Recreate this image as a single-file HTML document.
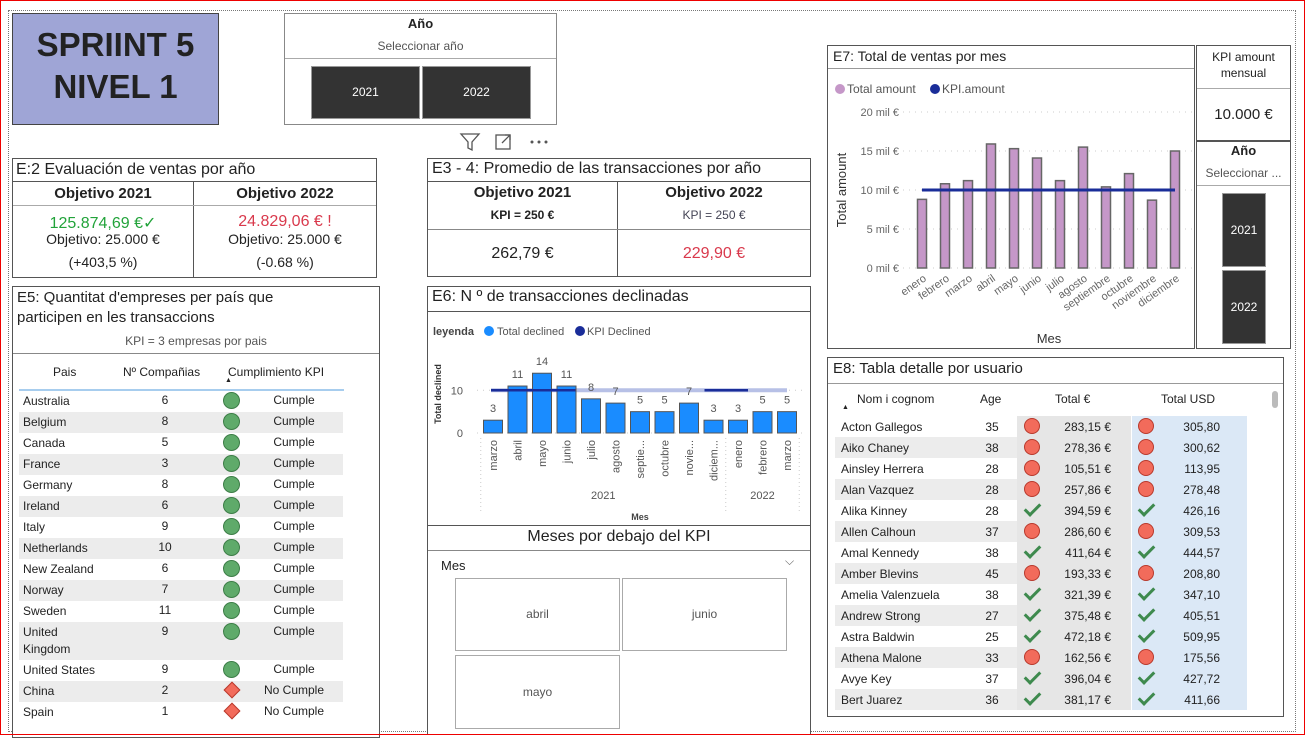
<!DOCTYPE html>
<html><head><meta charset="utf-8">
<style>
*{box-sizing:border-box;margin:0;padding:0}
body{width:1305px;height:735px;overflow:hidden;background:#fff;font-family:"Liberation Sans",sans-serif;color:#222;position:relative}
.a{position:absolute}
.box{position:absolute;border:1px solid #555;background:#fff}
.t{position:absolute;white-space:nowrap}
.c{text-align:center}
.dot{position:absolute;width:16px;height:16px;border-radius:50%;background:#f26b5b;border:1px solid #b8392c}
.gdot{position:absolute;width:17px;height:17px;border-radius:50%;background:#5faa6a;border:1px solid #3d7d47}
.dia{position:absolute;width:12px;height:12px;background:#f26b5b;border:1px solid #b8392c;transform:rotate(45deg)}
.chk{position:absolute;width:9px;height:16px;border-right:3px solid #3e8a4e;border-bottom:3px solid #3e8a4e;transform:rotate(45deg)}
.btn{position:absolute;background:#333;color:#fff;font-size:12px;text-align:center;border:1px solid #999}
</style></head>
<body>
<div class="a" style="left:0;top:0;width:1305px;height:735px;border:1px solid #e00;z-index:5;pointer-events:none"></div>
<div class="a" style="left:8px;top:10px;width:1288px;height:722px;border:1px dotted #777"></div>

<!-- Title -->
<div class="box" style="left:12px;top:13px;width:207px;height:112px;background:#9fa5d6;border-color:#444">
<div class="t c" style="left:0;top:10px;width:205px;font-size:33px;font-weight:bold;line-height:42px;color:#222">SPRIINT 5<br>NIVEL 1</div></div>

<!-- Year slicer -->
<div class="box" style="left:284px;top:13px;width:273px;height:112px;border-color:#888">
<div class="t c" style="left:0;top:2px;width:271px;font-size:13px;font-weight:bold">Año</div>
<div class="t c" style="left:0;top:25px;width:271px;font-size:12px;color:#555">Seleccionar año</div>
<div class="a" style="left:0;top:44px;width:271px;border-top:1px solid #aaa"></div>
<div class="btn" style="left:26px;top:52px;width:109px;height:53px;line-height:51px">2021</div>
<div class="btn" style="left:137px;top:52px;width:109px;height:53px;line-height:51px">2022</div>
</div>
<svg class="a" style="left:458px;top:131px" width="95" height="22">
<path d="M3 3h18l-7 8v8l-4-2v-6z" fill="none" stroke="#555" stroke-width="1.3"/>
<rect x="38" y="4" width="14" height="14" fill="none" stroke="#555" stroke-width="1.3"/><path d="M44 12l8-8M47 4h5v5" stroke="#555" fill="none" stroke-width="1.3"/>
<circle cx="74" cy="11" r="1.5" fill="#555"/><circle cx="81" cy="11" r="1.5" fill="#555"/><circle cx="88" cy="11" r="1.5" fill="#555"/>
</svg>

<!-- E2 -->
<div class="box" style="left:12px;top:158px;width:365px;height:120px">
<div class="t" style="left:3px;top:2px;font-size:16px">E:2 Evaluación de ventas por año</div>
<div class="a" style="left:0;top:22px;width:363px;border-top:1px solid #555"></div>
<div class="a" style="left:180px;top:22px;height:96px;border-left:1px solid #555"></div>
<div class="a" style="left:0;top:46px;width:363px;border-top:1px solid #aaa"></div>
<div class="t c" style="left:0;top:26px;width:180px;font-size:15px;font-weight:bold">Objetivo 2021</div>
<div class="t c" style="left:181px;top:26px;width:182px;font-size:15px;font-weight:bold">Objetivo 2022</div>
<div class="t c" style="left:0;top:54px;width:180px;font-size:16px;color:#22a33a">125.874,69 €✓</div>
<div class="t c" style="left:0;top:72px;width:180px;font-size:14px">Objetivo: 25.000 €</div>
<div class="t c" style="left:0;top:95px;width:180px;font-size:14px">(+403,5 %)</div>
<div class="t c" style="left:181px;top:54px;width:182px;font-size:16px;color:#d9394c">24.829,06 € !</div>
<div class="t c" style="left:181px;top:72px;width:182px;font-size:14px">Objetivo: 25.000 €</div>
<div class="t c" style="left:181px;top:95px;width:182px;font-size:14px">(-0.68 %)</div>
</div>

<!-- E3 -->
<div class="box" style="left:427px;top:158px;width:384px;height:119px">
<div class="t" style="left:4px;top:1px;font-size:16px">E3 - 4: Promedio de las transacciones por año</div>
<div class="a" style="left:0;top:22px;width:382px;border-top:1px solid #555"></div>
<div class="a" style="left:189px;top:22px;height:95px;border-left:1px solid #555"></div>
<div class="a" style="left:0;top:70px;width:382px;border-top:1px solid #888"></div>
<div class="t c" style="left:0;top:25px;width:189px;font-size:15px;font-weight:bold">Objetivo 2021</div>
<div class="t c" style="left:0;top:49px;width:189px;font-size:12px;font-weight:bold">KPI = 250 €</div>
<div class="t c" style="left:0;top:86px;width:189px;font-size:16px">262,79 €</div>
<div class="t c" style="left:190px;top:25px;width:192px;font-size:15px;font-weight:bold">Objetivo 2022</div>
<div class="t c" style="left:190px;top:49px;width:192px;font-size:12px;color:#445">KPI = 250 €</div>
<div class="t c" style="left:190px;top:86px;width:192px;font-size:16px;color:#d9394c">229,90 €</div>
</div>

<!-- E5 -->
<div class="box" style="left:12px;top:286px;width:368px;height:452px">
<div class="t" style="left:4px;top:1px;font-size:15px;line-height:20px">E5: Quantitat d'empreses per país que<br>participen en les transaccions</div>
<div class="t c" style="left:0;top:47px;width:366px;font-size:12px;color:#555">KPI = 3 empresas por pais</div>
<div class="a" style="left:0;top:66px;width:366px;border-top:1px solid #888"></div>
<div class="t" style="left:40px;top:78px;font-size:12px">Pais</div>
<div class="t" style="left:110px;top:78px;font-size:12px">Nº Compañias</div>
<div class="t" style="left:215px;top:78px;font-size:12px">Cumplimiento KPI</div>
<div class="t" style="left:212px;top:90px;font-size:7px">▲</div>
<div class="a" style="left:6px;top:102px;width:325px;border-top:2px solid #a7cdee"></div>
<div id="e5rows"></div>
</div>

<!-- E6 -->
<div class="box" style="left:427px;top:286px;width:384px;height:240px">
<div class="t" style="left:4px;top:1px;font-size:16px">E6: N º de transacciones declinadas</div>
<div class="a" style="left:0;top:24px;width:382px;border-top:1px solid #555"></div>
</div>
<svg class="a" id="e6" style="left:427px;top:286px" width="384" height="240"></svg>

<!-- Meses slicer -->
<div class="box" style="left:427px;top:525px;width:384px;height:210px">
<div class="t c" style="left:0;top:2px;width:382px;font-size:16px">Meses por debajo del KPI</div>
<div class="a" style="left:0;top:24px;width:382px;border-top:1px solid #888"></div>
<div class="t" style="left:13px;top:32px;font-size:13px">Mes</div>
<div class="t" style="left:357px;top:28px;font-size:12px;color:#666">⌵</div>
<div class="a c" style="left:27px;top:52px;width:165px;height:73px;border:1px solid #aaa;line-height:71px;font-size:12px;color:#555">abril</div>
<div class="a c" style="left:194px;top:52px;width:165px;height:73px;border:1px solid #aaa;line-height:71px;font-size:12px;color:#555">junio</div>
<div class="a c" style="left:27px;top:129px;width:165px;height:74px;border:1px solid #aaa;line-height:72px;font-size:12px;color:#555">mayo</div>
</div>

<!-- E7 -->
<div class="box" style="left:827px;top:45px;width:368px;height:304px">
<div class="t" style="left:5px;top:2px;font-size:14px">E7: Total de ventas por mes</div>
<div class="a" style="left:0;top:22px;width:366px;border-top:1px solid #999"></div>
</div>
<svg class="a" id="e7" style="left:827px;top:45px" width="368" height="304"></svg>

<!-- KPI amount card -->
<div class="box" style="left:1196px;top:45px;width:95px;height:96px">
<div class="t c" style="left:0;top:3px;width:93px;font-size:12px;line-height:16px">KPI amount<br>mensual</div>
<div class="a" style="left:0;top:42px;width:93px;border-top:1px solid #aaa"></div>
<div class="t c" style="left:0;top:60px;width:93px;font-size:15px">10.000 €</div>
</div>
<div class="box" style="left:1196px;top:141px;width:95px;height:208px">
<div class="t c" style="left:0;top:1px;width:93px;font-size:13px;font-weight:bold">Año</div>
<div class="t c" style="left:0;top:24px;width:93px;font-size:12px;color:#555">Seleccionar ...</div>
<div class="a" style="left:0;top:43px;width:93px;border-top:1px solid #aaa"></div>
<div class="btn" style="left:25px;top:51px;width:44px;height:74px;line-height:72px">2021</div>
<div class="btn" style="left:25px;top:128px;width:44px;height:74px;line-height:72px">2022</div>
</div>

<!-- E8 -->
<div class="box" style="left:827px;top:357px;width:457px;height:360px">
<div class="t" style="left:5px;top:2px;font-size:15px">E8: Tabla detalle por usuario</div>
<div class="a" style="left:0;top:25px;width:455px;border-top:1px solid #999"></div>
<div class="t" style="left:29px;top:34px;font-size:12px">Nom i cognom</div>
<div class="t" style="left:14px;top:46px;font-size:7px">▲</div>
<div class="t" style="left:152px;top:34px;font-size:12px">Age</div>
<div class="t" style="left:227px;top:34px;font-size:12px">Total €</div>
<div class="t" style="left:333px;top:34px;font-size:12px">Total USD</div>
<div class="a" style="left:444px;top:33px;width:6px;height:17px;background:#bbb;border-radius:3px"></div>
<div id="e8rows"></div>
</div>

<script>
// ---------- E5 table ----------
const e5Countries=["Australia","Belgium","Canada","France","Germany","Ireland","Italy","Netherlands","New Zealand","Norway","Sweden","United Kingdom","United States","China","Spain"];
const e5Counts=[6,8,5,3,8,6,9,10,6,7,11,9,9,2,1];
const e5Kpi=3;
(function(){
  const host=document.getElementById('e5rows');
  let y=104;
  e5Countries.forEach((c,i)=>{
    const tall=c==="United Kingdom";
    const h=tall?38:21;
    const r=document.createElement('div');
    r.className='a';
    
    
    r.style.cssText=`left:6px;top:${y}px;width:324px;height:${h}px;background:${i%2?'#ececec':'#fff'};font-size:12px`;
    const ok=e5Counts[i]>=e5Kpi;
    r.innerHTML=`<div class="t" style="left:4px;top:2px;line-height:17px">${tall?'United<br>Kingdom':c}</div>
    <div class="t c" style="left:116px;top:2px;width:60px">${e5Counts[i]}</div>
    ${ok?'<div class="gdot" style="left:204px;top:1px"></div>':'<div class="dia" style="left:207px;top:3px"></div>'}
    <div class="t c" style="left:230px;top:2px;width:90px">${ok?'Cumple':'No Cumple'}</div>`;
    host.appendChild(r);
    y+=h;
  });
})();

// ---------- E8 table ----------
const e8Names=["Acton Gallegos","Aiko Chaney","Ainsley Herrera","Alan Vazquez","Alika Kinney","Allen Calhoun","Amal Kennedy","Amber Blevins","Amelia Valenzuela","Andrew Strong","Astra Baldwin","Athena Malone","Avye Key","Bert Juarez"];
const e8Ages=[35,38,28,28,28,37,38,45,38,27,25,33,37,36];
const e8Eur=["283,15","278,36","105,51","257,86","394,59","286,60","411,64","193,33","321,39","375,48","472,18","162,56","396,04","381,17"];
const e8Usd=["305,80","300,62","113,95","278,48","426,16","309,53","444,57","208,80","347,10","405,51","509,95","175,56","427,72","411,66"];
(function(){
  const host=document.getElementById('e8rows');
  e8Names.forEach((n,i)=>{
    const y=58+i*21;
    const ok=parseFloat(e8Eur[i].replace(',','.'))>=300;
    const icon=(x)=>ok?`<div class="chk" style="left:${x+4}px;top:0px"></div>`:`<div class="dot" style="left:${x}px;top:2px"></div>`;
    const r=document.createElement('div');
    r.className='a';
    
    
    r.style.cssText=`left:7px;top:${y}px;width:412px;height:21px;font-size:12px`;
    r.innerHTML=`<div class="a" style="left:0;top:0;width:182px;height:21px;background:${i%2?'#ececec':'#fff'}"></div>
    <div class="a" style="left:182px;top:0;width:114px;height:21px;background:#e6e6e6"></div>
    <div class="a" style="left:297px;top:0;width:115px;height:21px;background:#dbe8f6"></div>
    <div class="t" style="left:6px;top:4px">${n}</div>
    <div class="t c" style="left:137px;top:4px;width:40px">${e8Ages[i]}</div>
    ${icon(189)}<div class="t" style="left:214px;top:4px;width:62px;text-align:right">${e8Eur[i]} €</div>
    ${icon(303)}<div class="t" style="left:330px;top:4px;width:55px;text-align:right">${e8Usd[i]}</div>`;
    host.appendChild(r);
  });
})();

// ---------- E7 chart ----------
const e7Months=["enero","febrero","marzo","abril","mayo","junio","julio","agosto","septiembre","octubre","noviembre","diciembre"];
const e7Totals=[8.8,10.8,11.2,15.9,15.3,14.1,11.2,15.5,10.4,12.1,8.7,15.0];
const e7Kpi=10;
const e7Ticks=[0,5,10,15,20];
const e7TickLabels=["0 mil €","5 mil €","10 mil €","15 mil €","20 mil €"];
// ---------- E6 chart ----------
const e6Months=["marzo","abril","mayo","junio","julio","agosto","septie...","octubre","novie...","diciem...","enero","febrero","marzo"];
const e6Years=["2021","2021","2021","2021","2021","2021","2021","2021","2021","2021","2022","2022","2022"];
const e6Declined=[3,11,14,11,8,7,5,5,7,3,3,5,5];
const e6Kpi=10;
const e6Ticks=[0,10];

const NS='http://www.w3.org/2000/svg';
function mk(svg,tag,attrs,text){const e=document.createElementNS(NS,tag);for(const k in attrs)e.setAttribute(k,attrs[k]);if(text!==undefined)e.textContent=text;svg.appendChild(e);return e;}

(function(){
  const svg=document.getElementById('e7');
  const y0=223,yTop=67,x0=95,step=23,bw=9;
  const ys=v=>y0-(v/20)*(y0-yTop);
  const xs=i=>x0+i*step;
  let t;
  t=mk(svg,'circle',{cx:13,cy:44,r:5,fill:'#c597c8'});
  t=mk(svg,'text',{x:20,y:48,'font-size':12,fill:'#555'},'Total amount');
  t=mk(svg,'circle',{cx:108,cy:44,r:5,fill:'#1a2d99'});
  t=mk(svg,'text',{x:115,y:48,'font-size':12,fill:'#555'},'KPI.amount');
  e7Ticks.forEach((v,i)=>{
    mk(svg,'line',{x1:76,x2:366,y1:ys(v),y2:ys(v),stroke:'#ccc','stroke-dasharray':'1 5'});
    t=mk(svg,'text',{x:72,y:ys(v)+4,'font-size':11,fill:'#666','text-anchor':'end'},e7TickLabels[i]);
    
  });
  t=mk(svg,'text',{x:0,y:0,'font-size':13,fill:'#333','text-anchor':'middle',transform:`translate(19,${(y0+yTop)/2}) rotate(-90)`},'Total amount');
  
  e7Totals.forEach((v,i)=>{
    const b=mk(svg,'rect',{x:xs(i)-bw/2,y:ys(v),width:bw,height:y0-ys(v),fill:'#c597c8',stroke:'#666','stroke-width':1.5});
    
    const l=mk(svg,'text',{x:0,y:0,'font-size':11,fill:'#666','text-anchor':'end',transform:`translate(${xs(i)+5},${y0+12}) rotate(-35)`},e7Months[i]);
    
  });
  const k=mk(svg,'line',{x1:xs(0),x2:xs(e7Months.length-1),y1:ys(e7Kpi),y2:ys(e7Kpi),stroke:'#1a2d99','stroke-width':3});
  
  t=mk(svg,'text',{x:222,y:298,'font-size':13,fill:'#333','text-anchor':'middle'},'Mes');
  
})();

(function(){
  const svg=document.getElementById('e6');
  const y0=147,ypu=4.27,x0=66,step=24.5,bw=19;
  const ys=v=>y0-v*ypu;
  const xs=i=>x0+i*step;
  let t;
  t=mk(svg,'text',{x:6,y:49,'font-size':11,'font-weight':'bold',fill:'#444'},'leyenda');
  t=mk(svg,'circle',{cx:62,cy:45,r:5,fill:'#1a8cff'});
  t=mk(svg,'text',{x:70,y:49,'font-size':11,fill:'#555'},'Total declined');
  t=mk(svg,'circle',{cx:153,cy:45,r:5,fill:'#1a2d99'});
  t=mk(svg,'text',{x:160,y:49,'font-size':11,fill:'#555'},'KPI Declined');
  e6Ticks.forEach(v=>{
    mk(svg,'line',{x1:50,x2:378,y1:ys(v),y2:ys(v),stroke:'#ccc','stroke-dasharray':'1 5'});
    t=mk(svg,'text',{x:36,y:ys(v)+4,'font-size':11,fill:'#555','text-anchor':'end'},String(v));
    
  });
  t=mk(svg,'text',{x:0,y:0,'font-size':9,'font-weight':'bold',fill:'#333','text-anchor':'middle',transform:`translate(14,108) rotate(-90)`},'Total declined');
  
  // faded kpi band
  mk(svg,'line',{x1:xs(0)-2,x2:xs(e6Months.length-1),y1:ys(e6Kpi),y2:ys(e6Kpi),stroke:'#b7c0e6','stroke-width':4});
  e6Declined.forEach((v,i)=>{
    const b=mk(svg,'rect',{x:xs(i)-bw/2,y:ys(v),width:bw,height:y0-ys(v),fill:'#1a8cff',stroke:'#555','stroke-width':1});
    
    const l=mk(svg,'text',{x:0,y:0,'font-size':11,fill:'#555','text-anchor':'end',transform:`translate(${xs(i)+4},${y0+7}) rotate(-90)`},e6Months[i]);
    
  });
  // solid parts of kpi line
  mk(svg,'line',{x1:xs(0)-2,x2:xs(3)+9,y1:ys(e6Kpi),y2:ys(e6Kpi),stroke:'#1a2d99','stroke-width':2.5});
  mk(svg,'line',{x1:xs(9)-9,x2:xs(10)+10,y1:ys(e6Kpi),y2:ys(e6Kpi),stroke:'#1a2d99','stroke-width':2.5});
  e6Declined.forEach((v,i)=>{
    const lv=mk(svg,'text',{x:xs(i),y:ys(v)-8,'font-size':11,fill:'#555','text-anchor':'middle'},String(v));
    
  });
  // year groups
  const firstIdx={},lastIdx={};
  e6Years.forEach((y,i)=>{if(!(y in firstIdx))firstIdx[y]=i;lastIdx[y]=i;});
  Object.keys(firstIdx).forEach(y=>{
    const cx=(xs(firstIdx[y])+xs(lastIdx[y]))/2;
    t=mk(svg,'text',{x:cx,y:213,'font-size':11,fill:'#555','text-anchor':'middle'},y);
    
    mk(svg,'line',{x1:xs(lastIdx[y])+step/2,x2:xs(lastIdx[y])+step/2,y1:y0+5,y2:226,stroke:'#ccc','stroke-dasharray':'1 3'});
  });
  mk(svg,'line',{x1:xs(0)-step/2,x2:xs(0)-step/2,y1:y0+5,y2:226,stroke:'#ccc','stroke-dasharray':'1 3'});
  t=mk(svg,'text',{x:213,y:234,'font-size':9,'font-weight':'bold',fill:'#444','text-anchor':'middle'},'Mes');
  
})();
</script>
</body></html>
